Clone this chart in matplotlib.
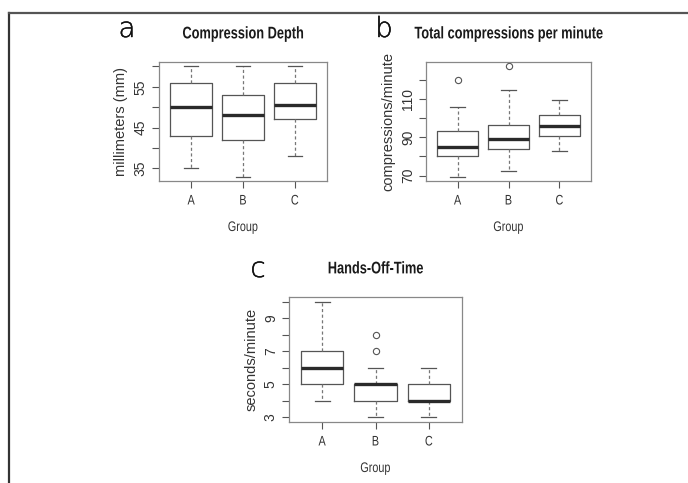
import matplotlib
matplotlib.use("Agg")
import matplotlib.pyplot as plt
from matplotlib.lines import Line2D
from matplotlib.patheffects import AbstractPathEffect, withStroke
from matplotlib.transforms import Affine2D

plt.rcParams['font.family'] = ['Liberation Sans', 'DejaVu Sans']

groups = ['A', 'B', 'C']

# Compression depth (mm)
depth_q1 = [43, 42, 47]
depth_med = [50, 48, 50.5]
depth_q3 = [56, 53, 56]
depth_lo = [35, 33, 38]
depth_hi = [60, 60, 60]
depth_out = [[], [], []]
depth_ticks = [35, 40, 45, 50, 55, 60]
depth_labels = ['35', '', '45', '', '55', '']

# Total compressions per minute
rate_q1 = [80, 84, 90.7]
rate_med = [84.8, 89.2, 96.1]
rate_q3 = [93.5, 96.4, 101.4]
rate_lo = [69.5, 72.5, 82.7]
rate_hi = [106, 114.5, 109.3]
rate_out = [[120], [127], []]
rate_ticks = [70, 80, 90, 100, 110, 120]
rate_labels = ['70', '', '90', '', '110', '']

# Hands-off-time (seconds/minute)
hot_q1 = [5, 4, 4]
hot_med = [6, 5, 4]
hot_q3 = [7, 5, 5]
hot_lo = [4, 3, 3]
hot_hi = [10, 6, 6]
hot_out = [[], [7, 8], []]
hot_ticks = [3, 4, 5, 6, 7, 8, 9, 10]
hot_labels = ['3', '', '5', '', '7', '', '9', '']


class Stretch(AbstractPathEffect):
    # rescale glyphs: x about the text centre, y about the baseline
    def __init__(self, sx=1.0, sy=1.0):
        super().__init__()
        self.sx, self.sy = sx, sy

    def draw_path(self, renderer, gc, tpath, affine, rgbFace=None):
        v = tpath.vertices
        cx = (v[:, 0].min() + v[:, 0].max()) / 2 if len(v) else 0
        tr = Affine2D().translate(-cx, 0).scale(self.sx, self.sy).translate(cx, 0)
        renderer.draw_path(gc, tpath, tr + affine, rgbFace)


narrow = [Stretch(0.78, 1.0)]

W, H = 688, 483
fig = plt.figure(figsize=(W / 100, H / 100), dpi=100)


def px_axes(left, top, right, bottom):
    return fig.add_axes([left / W, 1 - bottom / H, (right - left) / W, (bottom - top) / H])


def panel(ax, q1, med, q3, lo, hi, out, ticks, labels, title, ylabel):
    stats = []
    for i in range(len(groups)):
        stats.append(dict(med=med[i], q1=q1[i], q3=q3[i], whislo=lo[i], whishi=hi[i],
                          fliers=out[i], label=groups[i]))
    ax.bxp(stats, positions=[1, 2, 3], widths=0.8, capwidths=0.28,
           boxprops=dict(color='#555555', lw=0.9),
           medianprops=dict(color='#2a2a2a', lw=2.4, solid_capstyle='butt'),
           whiskerprops=dict(color='#777777', lw=0.9, ls=(0, (2.5, 2))),
           capprops=dict(color='#555555', lw=0.9),
           flierprops=dict(marker='o', markersize=4.5, markerfacecolor='none',
                           markeredgecolor='#555555', markeredgewidth=0.8))
    allv = lo + hi + [v for o in out for v in o]
    vmin, vmax = min(allv), max(allv)
    pad = 0.04 * (vmax - vmin)
    ax.set_ylim(vmin - pad, vmax + pad)
    ax.set_xlim(0.38, 3.62)
    ax.set_yticks(ticks)
    ax.set_yticklabels(labels, rotation=90, va='center', fontsize=10, color='#333333')
    ax.set_xticks([1, 2, 3])
    ax.set_xticklabels(groups, fontsize=10, color='#333333')
    for t in ax.get_xticklabels():
        t.set_path_effects(narrow)
    ax.tick_params(axis='both', length=5, width=0.8, color='#555555', pad=3)
    ax.tick_params(axis='x', pad=4)
    for s in ax.spines.values():
        s.set_color('#888888')
        s.set_linewidth(0.9)
    # bold title, condensed: smaller font stretched back up in height
    t = ax.set_title(title, fontsize=9.2, fontweight='bold', pad=17, color='#1a1a1a')
    t.set_path_effects([Stretch(1.0, 1.32)])
    xl = ax.set_xlabel('Group', fontsize=10, labelpad=9, color='#333333')
    xl.set_path_effects(narrow)
    ax.set_ylabel(ylabel, fontsize=10.5, labelpad=4, color='#333333')


ax_a = px_axes(159, 62, 327, 181)
panel(ax_a, depth_q1, depth_med, depth_q3, depth_lo, depth_hi, depth_out,
      depth_ticks, depth_labels, 'Compression Depth', 'millimeters (mm)')

ax_b = px_axes(426, 62, 591, 181)
panel(ax_b, rate_q1, rate_med, rate_q3, rate_lo, rate_hi, rate_out,
      rate_ticks, rate_labels, 'Total compressions per minute', 'compressions/minute')

ax_c = px_axes(289, 297, 462, 422)
panel(ax_c, hot_q1, hot_med, hot_q3, hot_lo, hot_hi, hot_out,
      hot_ticks, hot_labels, 'Hands-Off-Time', 'seconds/minute')

# panel letters
for letter, x, y in [('a', 127, 37), ('b', 384, 37), ('c', 258, 277)]:
    fig.text(x / W, 1 - y / H, letter, fontsize=20, ha='center', va='baseline',
             color='#111111', family=['DejaVu Sans'], fontweight='light',
             path_effects=[withStroke(linewidth=0.3, foreground='#111111')])

# frame lines (left and top)
fig.add_artist(Line2D([9 / W, 9 / W], [0, 1 - 13 / H], transform=fig.transFigure,
                      color='#333333', lw=1.6))
fig.add_artist(Line2D([9 / W, 1], [1 - 13 / H, 1 - 13 / H], transform=fig.transFigure,
                      color='#555555', lw=1.6))

fig.savefig('out.png', dpi=100)
